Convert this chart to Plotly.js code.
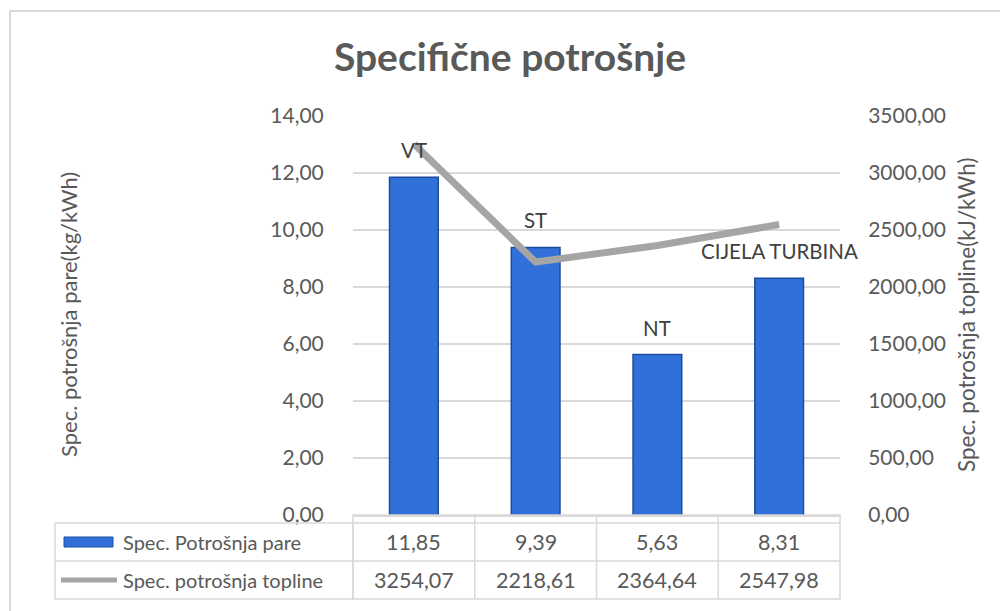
<!DOCTYPE html>
<html>
<head>
<meta charset="utf-8">
<script src="https://cdn.plot.ly/plotly-3.0.1.min.js"></script>
<style>html,body{margin:0;padding:0;background:#fff;overflow:hidden;}#chart{width:1000px;height:611px;}</style>
</head>
<body>
<div id="chart"></div>
<script>
// ---- data ----
var categories = ["VT", "ST", "NT", "CIJELA TURBINA"];
var steamConsumption = [11.85, 9.39, 5.63, 8.31];           // kg/kWh
var heatConsumption = [3254.07, 2218.61, 2364.64, 2547.98];  // kJ/kWh
var seriesNames = ["Spec. Potrošnja pare", "Spec. potrošnja topline"];
var leftTicks = [0, 2, 4, 6, 8, 10, 12, 14];
var rightTicks = [0, 500, 1000, 1500, 2000, 2500, 3000, 3500];

function fmt(v) { return v.toFixed(2).replace('.', ','); }

var FONT = 'Lato, "Open Sans", sans-serif';
var GREY = '#595959';
var BORDER = '#D9D9D9';
var idx = categories.map(function (c, i) { return i; });

var traces = [
  {
    type: 'bar', name: seriesNames[0], x: idx, y: steamConsumption,
    marker: { color: '#3070D8', line: { color: '#1E4C9C', width: 1.5 } },
    width: 0.4, hoverinfo: 'y', showlegend: false
  },
  {
    type: 'scatter', mode: 'lines', name: seriesNames[1], x: idx, y: heatConsumption,
    yaxis: 'y2', line: { color: '#A5A5A5', width: 7 }, showlegend: false
  }
];

// plot area in pixels: x 353..840, y 116..515
var L = 353, R = 840, T = 116, B = 515;
function px(p) { return (p - L) / (R - L); }
function py(p) { return (B - p) / (B - T); }

var shapes = [];
var annotations = [];

// outer chart border (left & top visible)
shapes.push({ type: 'line', xref: 'paper', yref: 'paper', x0: px(10), x1: px(1000), y0: py(11), y1: py(11),
  line: { color: BORDER, width: 2 }, layer: 'below' });
shapes.push({ type: 'line', xref: 'paper', yref: 'paper', x0: px(10), x1: px(10), y0: py(11), y1: py(611),
  line: { color: BORDER, width: 2 }, layer: 'below' });

// data table grid
var rowTop = py(523), rowMid = py(561), rowBot = py(599), axisY = py(515);
shapes.push({ type: 'rect', xref: 'paper', yref: 'paper', x0: px(55), x1: 0, y0: rowBot, y1: rowTop,
  line: { color: BORDER, width: 1.5 } });
shapes.push({ type: 'rect', xref: 'paper', yref: 'paper', x0: 0, x1: 1, y0: rowBot, y1: axisY,
  line: { color: BORDER, width: 1.5 } });
shapes.push({ type: 'line', xref: 'paper', yref: 'paper', x0: px(55), x1: 1, y0: rowMid, y1: rowMid,
  line: { color: BORDER, width: 1.5 } });
shapes.push({ type: 'line', xref: 'paper', yref: 'paper', x0: 0, x1: 1, y0: rowTop, y1: rowTop,
  line: { color: BORDER, width: 1.5 } });
for (var k = 1; k < categories.length; k++) {
  shapes.push({ type: 'line', xref: 'x', yref: 'paper', x0: k - 0.5, x1: k - 0.5, y0: rowBot, y1: axisY,
    line: { color: BORDER, width: 1.5 } });
}
// legend keys
shapes.push({ type: 'rect', xref: 'paper', yref: 'paper', x0: px(64), x1: px(113), y0: py(547), y1: py(537),
  fillcolor: '#3070D8', line: { color: '#1E4C9C', width: 1 } });
shapes.push({ type: 'line', xref: 'paper', yref: 'paper', x0: px(61), x1: px(117), y0: py(580), y1: py(580),
  line: { color: '#A5A5A5', width: 5 } });

var legendFont = { family: FONT, size: 20, color: GREY };
var valueFont = { family: FONT, size: 21.5, color: GREY };
annotations.push({ xref: 'paper', yref: 'paper', x: px(121), y: (rowTop + rowMid) / 2, xanchor: 'left', yanchor: 'middle',
  text: seriesNames[0], showarrow: false, font: legendFont });
annotations.push({ xref: 'paper', yref: 'paper', x: px(121), y: (rowMid + rowBot) / 2, xanchor: 'left', yanchor: 'middle',
  text: seriesNames[1], showarrow: false, font: legendFont });
categories.forEach(function (c, i) {
  annotations.push({ xref: 'x', yref: 'paper', x: i, y: (rowTop + rowMid) / 2, yanchor: 'middle',
    text: fmt(steamConsumption[i]), showarrow: false, font: valueFont });
  annotations.push({ xref: 'x', yref: 'paper', x: i, y: (rowMid + rowBot) / 2, yanchor: 'middle',
    text: fmt(heatConsumption[i]), showarrow: false, font: valueFont });
  // category labels above bars
  annotations.push({ xref: 'x', yref: 'y', x: i, y: steamConsumption[i], yanchor: 'bottom', yshift: 13,
    text: c, showarrow: false, font: { family: FONT, size: 20.5, color: '#404040' } });
});

// axis titles
annotations.push({ xref: 'paper', yref: 'paper', x: px(68), y: py(315), textangle: -90, xanchor: 'center', yanchor: 'middle',
  text: 'Spec. potrošnja pare(kg/kWh)', showarrow: false, font: { family: FONT, size: 22, color: GREY } });
annotations.push({ xref: 'paper', yref: 'paper', x: px(966), y: py(315), textangle: -90, xanchor: 'center', yanchor: 'middle',
  text: 'Spec. potrošnja topline(kJ/kWh)', showarrow: false, font: { family: FONT, size: 22.5, color: GREY } });

var layout = {
  width: 1000, height: 611,
  margin: { l: L, r: 1000 - R, t: T, b: 611 - B, pad: 0 },
  paper_bgcolor: '#ffffff', plot_bgcolor: '#ffffff',
  font: { family: FONT, color: GREY },
  title: { text: '<b>Specifične potrošnje</b>', x: 0.51, xanchor: 'center', xref: 'container',
    y: 1 - 57 / 611, yref: 'container', yanchor: 'middle',
    font: { family: FONT, size: 39, color: GREY } },
  bargap: 0.6,
  xaxis: { type: 'linear', range: [-0.5, categories.length - 0.5], showticklabels: false, showgrid: false,
    zeroline: false, showline: true, linecolor: BORDER, linewidth: 1.5, ticks: '', fixedrange: true },
  yaxis: { range: [0, 14], tickvals: leftTicks, ticktext: leftTicks.map(fmt), showgrid: true, gridcolor: BORDER,
    gridwidth: 1.5, zeroline: false, showline: false, ticks: 'outside', ticklen: 24, tickcolor: 'rgba(0,0,0,0)',
    tickfont: { family: FONT, size: 21, color: GREY }, fixedrange: true },
  yaxis2: { overlaying: 'y', side: 'right', range: [0, 3500], tickvals: rightTicks, ticktext: rightTicks.map(fmt),
    showgrid: false, zeroline: false, showline: false, ticks: 'outside', ticklen: 23, tickcolor: 'rgba(0,0,0,0)',
    tickfont: { family: FONT, size: 21, color: GREY }, fixedrange: true },
  shapes: shapes,
  annotations: annotations,
  showlegend: false
};

Plotly.newPlot('chart', traces, layout, { displayModeBar: false, staticPlot: true });
</script>
</body>
</html>
